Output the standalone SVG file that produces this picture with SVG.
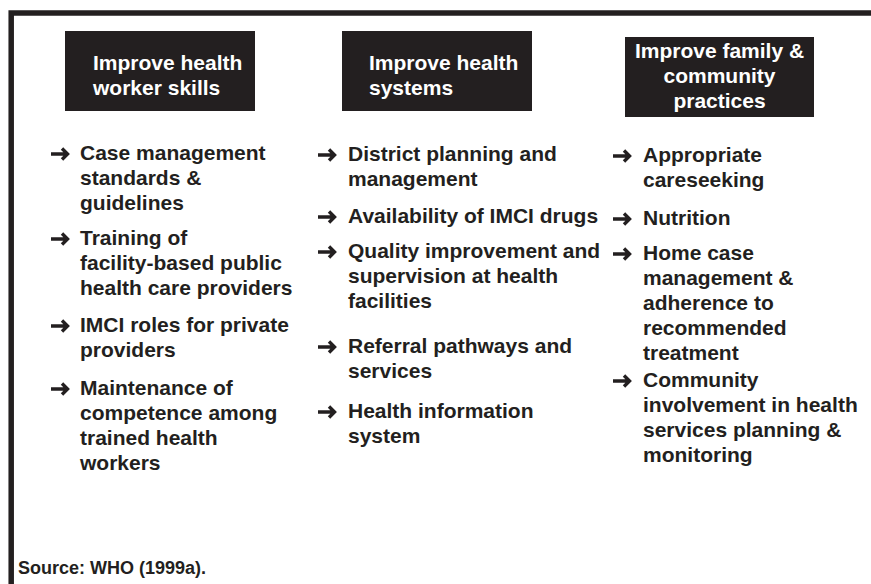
<svg xmlns="http://www.w3.org/2000/svg" width="871" height="584" viewBox="0 0 871 584">
<style>
.hdr{fill:#231f20}
.ht{font-family:"Liberation Sans",Arial,sans-serif;font-weight:bold;font-size:21px;fill:#ffffff}
.it{font-family:"Liberation Sans",Arial,sans-serif;font-weight:bold;font-size:21px;fill:#231f20}
.src{font-family:"Liberation Sans",Arial,sans-serif;font-weight:bold;font-size:18px;fill:#231f20}
.frame{fill:none;stroke:#231f20;stroke-width:5.5}
</style>
<defs>
<path id="arr" d="M0 0 H16.5 M11 -5.5 L16.5 0 L11 5.5" fill="none" stroke="#231f20" stroke-width="3.4" stroke-linejoin="miter"/>
</defs>
<rect width="871" height="584" fill="#ffffff"/>
<path class="frame" d="M11.2 584 V13 H871"/>

<g id="node-skills">
<rect class="hdr" x="65" y="31" width="190" height="80"/>
<text class="ht" x="93" y="70">Improve health</text>
<text class="ht" x="93" y="95">worker skills</text>
</g>
<g id="node-systems">
<rect class="hdr" x="342" y="31" width="190" height="80"/>
<text class="ht" x="369" y="70">Improve health</text>
<text class="ht" x="369" y="95">systems</text>
</g>
<g id="node-family">
<rect class="hdr" x="625" y="37" width="189" height="80"/>
<text class="ht" x="719.5" y="58" text-anchor="middle">Improve family &amp;</text>
<text class="ht" x="719.5" y="83" text-anchor="middle">community</text>
<text class="ht" x="719.5" y="108" text-anchor="middle">practices</text>
</g>

<g id="list-skills">
<use href="#arr" x="51" y="154"/>
<text class="it" x="80" y="160">Case management</text>
<text class="it" x="80" y="185">standards &amp;</text>
<text class="it" x="80" y="210">guidelines</text>
<use href="#arr" x="51" y="239"/>
<text class="it" x="80" y="245">Training of</text>
<text class="it" x="80" y="270">facility-based public</text>
<text class="it" x="80" y="295">health care providers</text>
<use href="#arr" x="51" y="326"/>
<text class="it" x="80" y="332">IMCI roles for private</text>
<text class="it" x="80" y="357">providers</text>
<use href="#arr" x="51" y="389"/>
<text class="it" x="80" y="395">Maintenance of</text>
<text class="it" x="80" y="420">competence among</text>
<text class="it" x="80" y="445">trained health</text>
<text class="it" x="80" y="470">workers</text>
</g>

<g id="list-systems">
<use href="#arr" x="318" y="155"/>
<text class="it" x="348" y="161">District planning and</text>
<text class="it" x="348" y="186">management</text>
<use href="#arr" x="318" y="217"/>
<text class="it" x="348" y="223">Availability of IMCI drugs</text>
<use href="#arr" x="318" y="252"/>
<text class="it" x="348" y="258">Quality improvement and</text>
<text class="it" x="348" y="283">supervision at health</text>
<text class="it" x="348" y="308">facilities</text>
<use href="#arr" x="318" y="347"/>
<text class="it" x="348" y="353">Referral pathways and</text>
<text class="it" x="348" y="378">services</text>
<use href="#arr" x="318" y="412"/>
<text class="it" x="348" y="418">Health information</text>
<text class="it" x="348" y="443">system</text>
</g>

<g id="list-family">
<use href="#arr" x="613" y="156"/>
<text class="it" x="643" y="162">Appropriate</text>
<text class="it" x="643" y="187">careseeking</text>
<use href="#arr" x="613" y="219"/>
<text class="it" x="643" y="225">Nutrition</text>
<use href="#arr" x="613" y="254"/>
<text class="it" x="643" y="260">Home case</text>
<text class="it" x="643" y="285">management &amp;</text>
<text class="it" x="643" y="310">adherence to</text>
<text class="it" x="643" y="335">recommended</text>
<text class="it" x="643" y="360">treatment</text>
<use href="#arr" x="613" y="381"/>
<text class="it" x="643" y="387">Community</text>
<text class="it" x="643" y="412">involvement in health</text>
<text class="it" x="643" y="437">services planning &amp;</text>
<text class="it" x="643" y="462">monitoring</text>
</g>

<g id="connectors"></g>

<text class="src" x="18" y="574">Source: WHO (1999a).</text>
</svg>
